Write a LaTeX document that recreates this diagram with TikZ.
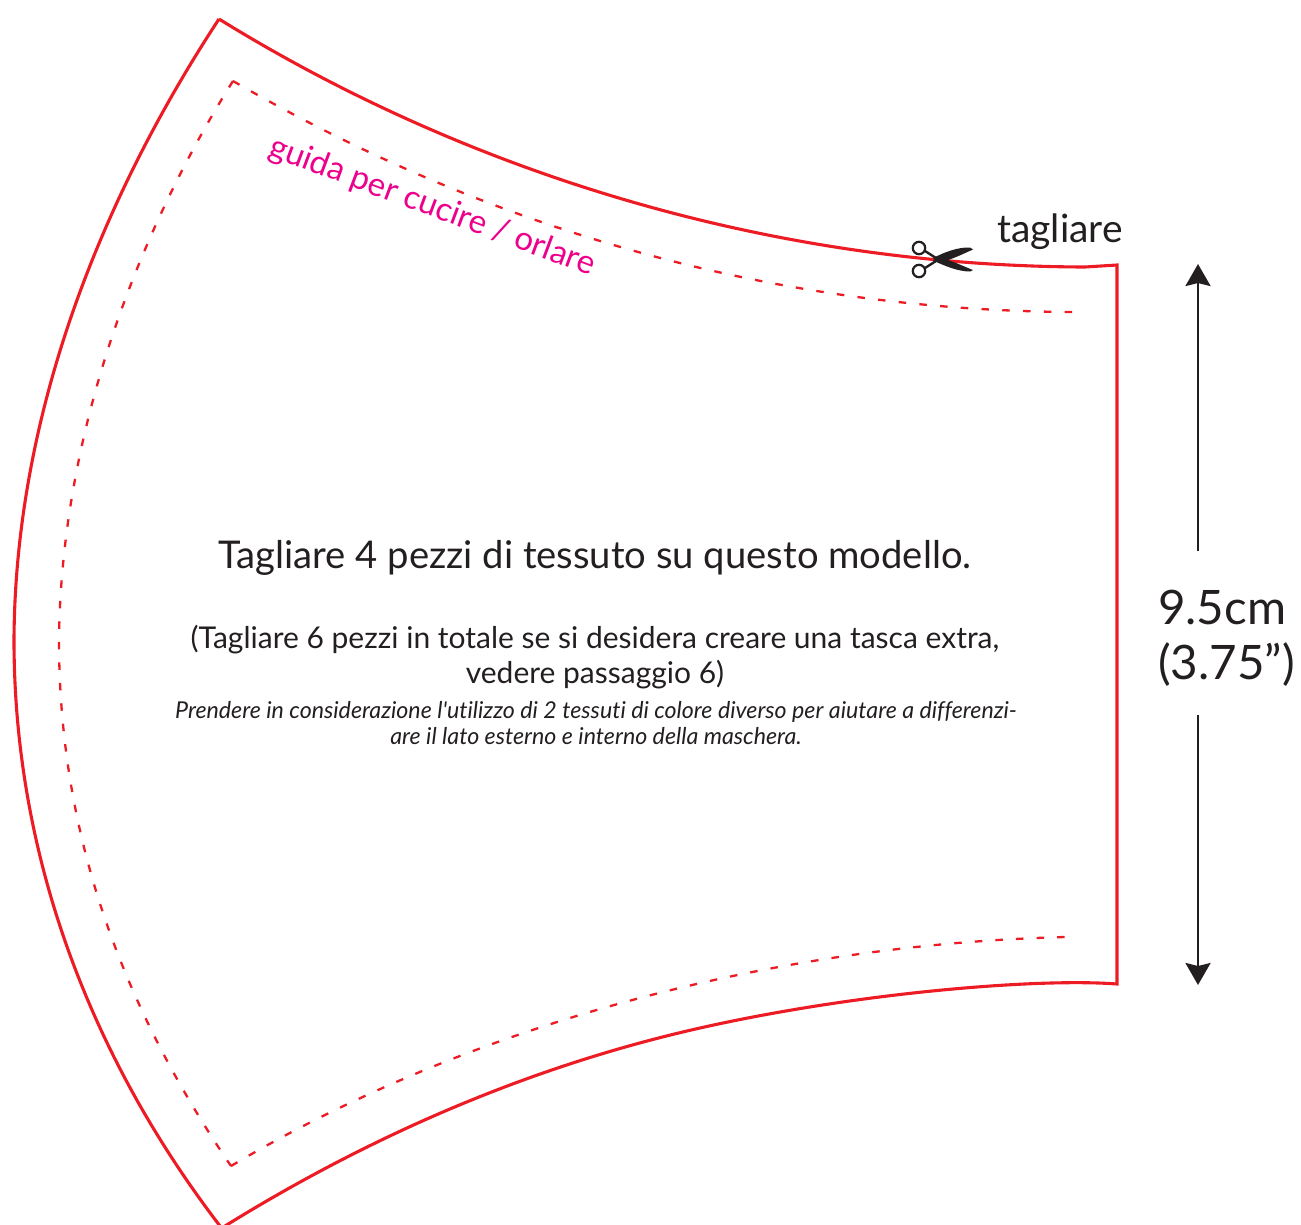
\documentclass[tikz,border=0pt]{standalone}
\usepackage{fontspec}
\newfontfamily\lbl{Lato}[Ligatures=NoCommon]
\usetikzlibrary{arrows.meta}
\definecolor{cutred}{RGB}{237,28,36}
\definecolor{ink}{RGB}{35,31,32}
\definecolor{guide}{RGB}{236,0,140}
\tikzset{
  cutline/.style={draw=cutred,line width=3.1pt,line join=miter},
  sewline/.style={draw=cutred,line width=2.3pt,dash pattern=on 7.5pt off 13pt},
  label/.style={text=ink,align=center,inner sep=0pt},
  dimarrow/.style={draw=ink,line width=2.6pt,-{Stealth[length=22pt,width=25pt,inset=3pt]}},
}
\begin{document}
\begin{tikzpicture}[x=1pt,y=-1pt]
\useasboundingbox (0,0) rectangle (1301,1224);
% outer cutting line
\draw[cutline] (219,19) .. controls (460,168) and (760,266) .. (1085,267) -- (1117,265) -- (1117,984)
  .. controls (1040,978) and (860,992) .. (700,1028) .. controls (540,1064) and (380,1130) .. (225,1226)
  (219,19) .. controls (97,205) and (15,420) .. (14,640) .. controls (14,860) and (93,1060) .. (220,1226);
% sewing guide
\draw[sewline,dash pattern=on 7.5pt off 13.28pt] (233,81) .. controls (460,212) and (740,310) .. (1072,312);
\draw[sewline] (233,81) .. controls (133,240) and (61,440) .. (59,640) .. controls (59,840) and (125,1010) .. (231,1166);
\draw[sewline,dash pattern=on 7.5pt off 13.12pt] (231,1166) .. controls (460,1030) and (760,945) .. (1065,937);
% labels
\node[text=guide,font=\lbl\fontsize{33}{38}\selectfont,rotate=-20.5,inner sep=0pt] (guidelabel) at (432,207) {guida per cucire / orlare};
\node[label,font=\lbl\fontsize{39}{44}\selectfont] (cutlabel) at (1060,232) {tagliare};
\node[label,font=\lbl\fontsize{38.2}{44}\selectfont] (title) at (595,557.5) {Tagliare 4 pezzi di tessuto su questo modello.};
\node[label,font=\lbl\fontsize{30}{35}\selectfont] (extra) at (595,657) {(Tagliare 6 pezzi in totale se si desidera creare una tasca extra,\\vedere passaggio 6)};
\node[label,font=\lbl\itshape\fontsize{23.2}{26}\selectfont] (note) at (596,723) {Prendere in considerazione l'utilizzo di 2 tessuti di colore diverso per aiutare a differenzi-\\are il lato esterno e interno della maschera.};
\node[label,align=left,anchor=west,font=\lbl\fontsize{47.5}{55}\selectfont] (dim) at (1158,638) {9.5cm\\(3.75”)};
% dimension arrows
\coordinate (dimtopstart) at (1198,551);
\coordinate (dimtop) at (1198,264);
\coordinate (dimbotstart) at (1198,715);
\coordinate (dimbot) at (1198,985);
\draw[dimarrow] (dimtopstart) -- (dimtop);
\draw[dimarrow] (dimbotstart) -- (dimbot);
% scissors
\draw[ink,line width=2.2pt] (919,248) circle (6.2) (919,271) circle (6.2);
\draw[ink,line width=2.4pt] (925,251) -- (936,258) (925,268) -- (936,261);
\fill[ink] (933,258) .. controls (945,252) and (958,247) .. (970,247.5) -- (973,249.5) .. controls (965,253) and (957,257) .. (948,260) -- (938,262) -- cycle;
\fill[ink] (933,260.5) .. controls (945,266) and (958,271.5) .. (970,271.5) -- (973,270) .. controls (965,267) and (957,263) .. (948,260) -- (938,257) -- cycle;
\end{tikzpicture}
\end{document}
